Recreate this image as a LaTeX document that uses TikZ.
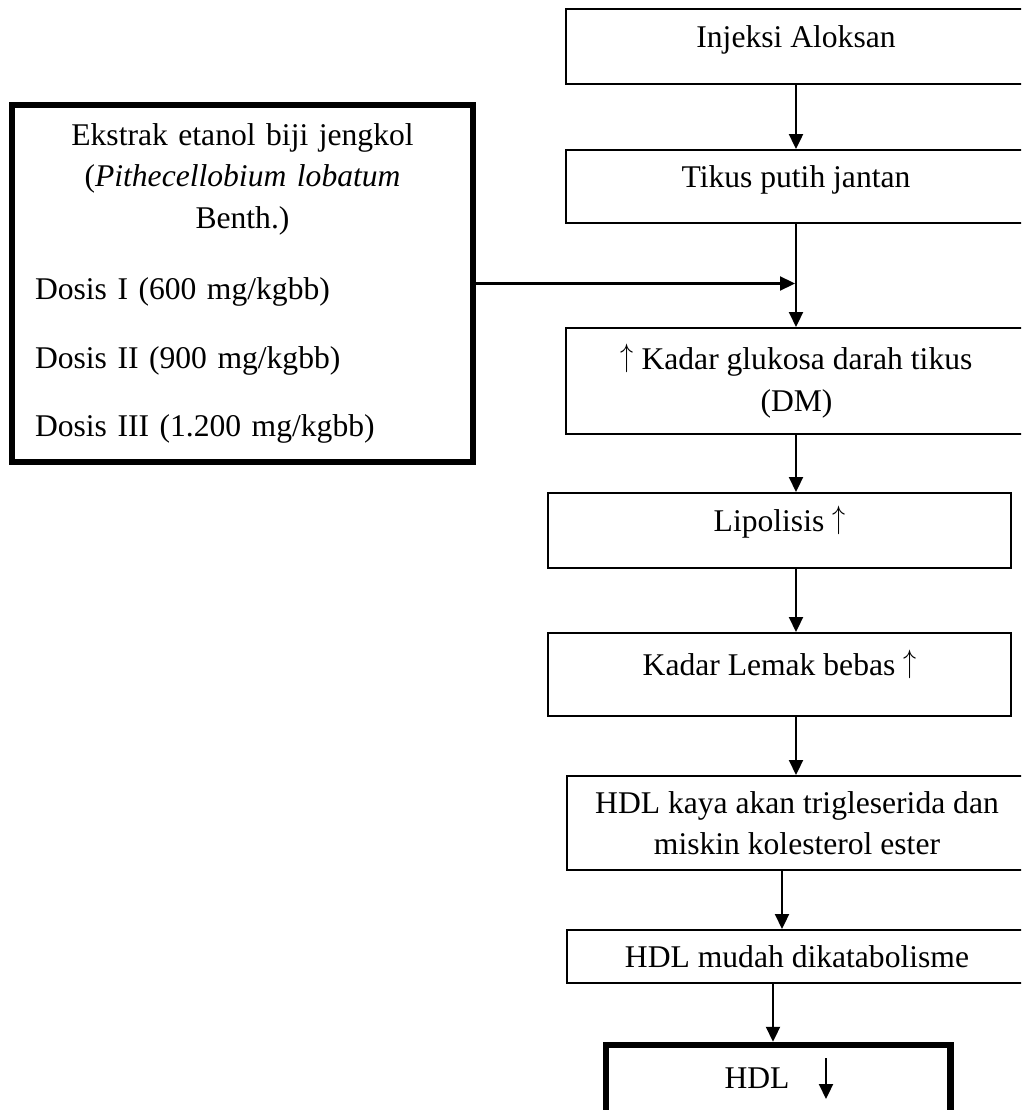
\documentclass[tikz,border=0pt]{standalone}
\usepackage{fontspec}
\setmainfont{Liberation Serif}
\usetikzlibrary{arrows.meta,positioning,calc}

\newcommand{\naik}{\raisebox{3pt}{\scalebox{1.05}[1.3]{$\uparrow$}}}

\begin{document}
\begin{tikzpicture}[
    x=1pt, y=-1pt,
    font=\fontsize{31.6pt}{41.5pt}\selectfont,
    box/.style={
        rectangle, draw=black, line width=2pt, align=center,
        inner sep=0pt, minimum width=461pt
    },
    lift/.style={text height=0.7em, text depth=0.5em},
    heavyBox/.style={
        rectangle, draw=black, line width=5.5pt, inner sep=0pt
    },
    flow/.style={
        -{Triangle[length=15pt, width=14pt]}, line width=2.2pt, draw=black
    }
]

% Frame (the right column runs off the page)
\useasboundingbox (0,0) rectangle (1021,1110);
\clip (0,0) rectangle (1021,1110);

% Treatment
\node[heavyBox, minimum width=461pt, minimum height=357pt,
      text width=415pt, inner xsep=23pt] (ekstrak) at (242.5, 283.5) {%
    {\centering Ekstrak etanol biji jengkol\\
    (\textit{Pithecellobium lobatum}\\
    Benth.)\par}
    \vspace{30pt}
    Dosis I (600 mg/kgbb)\\[27pt]
    Dosis II (900 mg/kgbb)\\[27pt]
    Dosis III (1.200 mg/kgbb)};

% Main column
\node[box, lift, minimum height=74.4pt] (aloksan) at (796, 46.5) {Injeksi Aloksan};
\node[box, lift, minimum height=73.3pt] (tikus) at (796, 186.7) {Tikus putih jantan};
\node[box, minimum height=106pt] (glukosa) at (796.5, 381) {\naik{} Kadar glukosa darah tikus\\(DM)};
\node[box, lift, minimum width=463pt, minimum height=75pt] (lipolisis) at (779.5, 530.5) {Lipolisis \naik};
\node[box, lift, minimum width=463pt, minimum height=83pt] (lemak) at (779.5, 674.5) {Kadar Lemak bebas \naik};
\node[box, minimum height=94pt] (kaya) at (797, 823) {HDL kaya akan trigleserida dan\\miskin kolesterol ester};
\node[box, minimum height=53pt] (katabolisme) at (797, 956.5) {HDL mudah dikatabolisme};

% Outcome
\node[heavyBox, line width=6.5pt, minimum width=344.5pt, minimum height=110pt] (hdl) at (778, 1100) {};
\node (hdltxt) at (757, 1077.7) {HDL};
\coordinate (turunA) at (826, 1058);
\coordinate (turunB) at (826, 1099);
\draw[flow] (turunA) -- (turunB);

% Connectors
\draw[flow] (aloksan.south) -- (tikus.north);
\draw[flow] (tikus.south) -- (tikus.south |- glukosa.north);
\coordinate (masuk) at (tikus.south |- ekstrak.east);
\draw[flow, shorten >=1pt] (ekstrak.east) -- (masuk);
\draw[flow] (glukosa.south -| tikus.south) -- (lipolisis.north -| tikus.south);
\draw[flow] (lipolisis.south -| tikus.south) -- (lemak.north -| tikus.south);
\draw[flow] (lemak.south -| tikus.south) -- (kaya.north -| tikus.south);
\draw[flow] ([xshift=-15pt]kaya.south) -- ([xshift=-15pt]katabolisme.north);
\coordinate (k7) at ([xshift=-24pt]katabolisme.south);
\draw[flow] (k7) -- (k7 |- hdl.north);

\end{tikzpicture}
\end{document}
